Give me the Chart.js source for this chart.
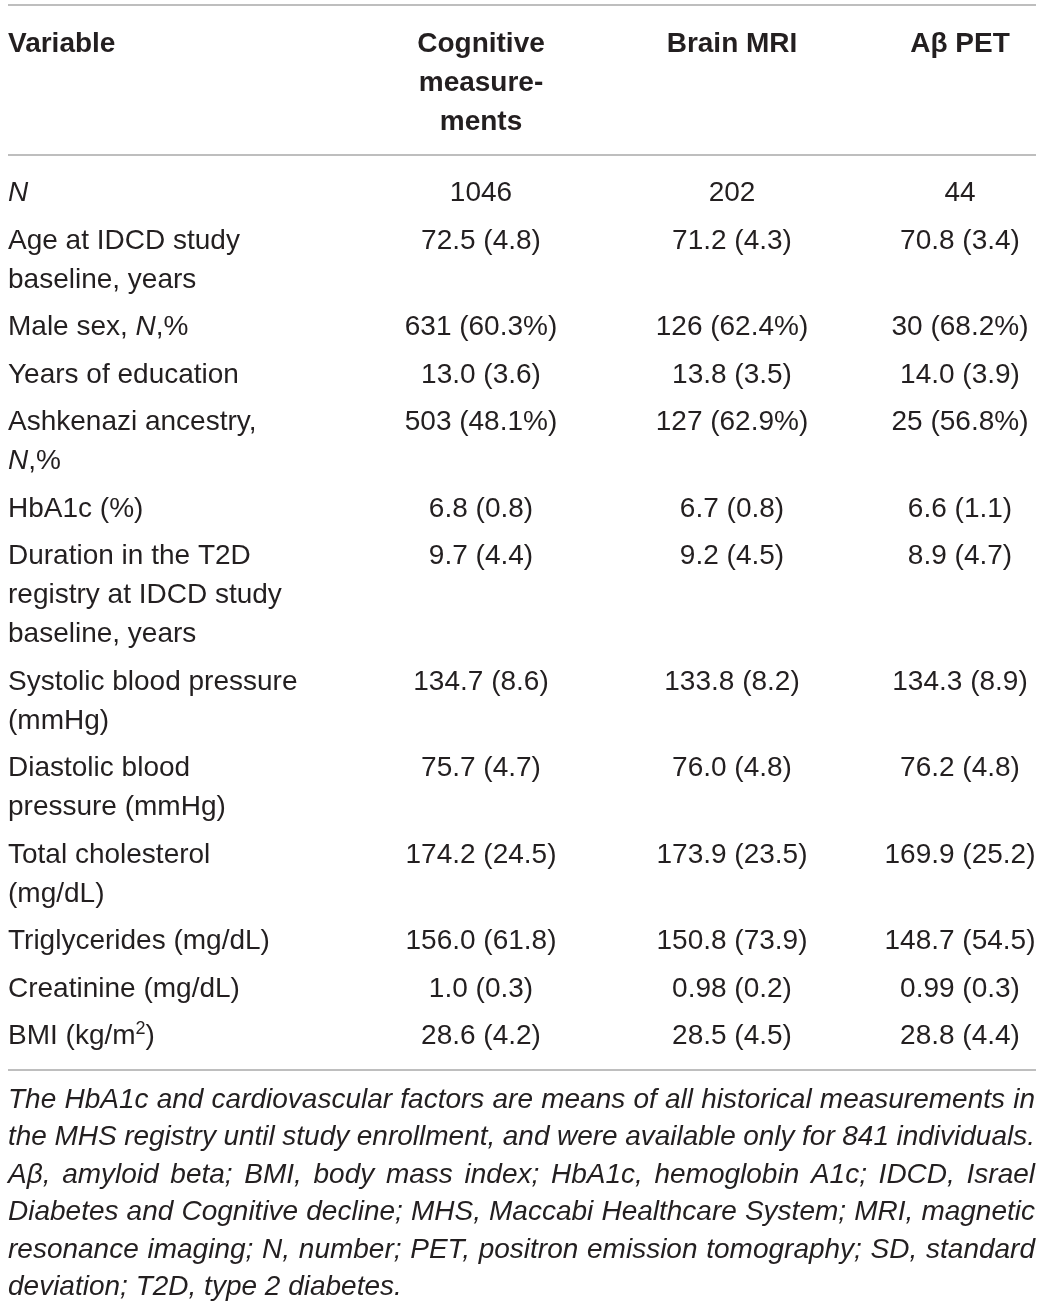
<!DOCTYPE html>
<html>
<head>
<meta charset="utf-8">
<script src="https://cdn.jsdelivr.net/npm/chart.js@4/dist/chart.umd.min.js"></script>
<style>
  html, body { margin: 0; padding: 0; background: #ffffff; }
  #wrap { width: 1043px; height: 1306px; }
</style>
</head>
<body>
<div id="wrap"><canvas id="c" width="1043" height="1306"></canvas></div>
<script>
// ---------------- DATA ----------------
const headers = [["Variable"], ["Cognitive", "measure-", "ments"], ["Brain MRI"], ["A\u03b2 PET"]];

const variables = [
  ["*N*"],
  ["Age at IDCD study", "baseline, years"],
  ["Male sex, *N*,%"],
  ["Years of education"],
  ["Ashkenazi ancestry,", "*N*,%"],
  ["HbA1c (%)"],
  ["Duration in the T2D", "registry at IDCD study", "baseline, years"],
  ["Systolic blood pressure", "(mmHg)"],
  ["Diastolic blood", "pressure (mmHg)"],
  ["Total cholesterol", "(mg/dL)"],
  ["Triglycerides (mg/dL)"],
  ["Creatinine (mg/dL)"],
  ["BMI (kg/m^2^)"]
];

const cognitive = ["1046", "72.5 (4.8)", "631 (60.3%)", "13.0 (3.6)", "503 (48.1%)", "6.8 (0.8)", "9.7 (4.4)",
  "134.7 (8.6)", "75.7 (4.7)", "174.2 (24.5)", "156.0 (61.8)", "1.0 (0.3)", "28.6 (4.2)"];
const brainMRI = ["202", "71.2 (4.3)", "126 (62.4%)", "13.8 (3.5)", "127 (62.9%)", "6.7 (0.8)", "9.2 (4.5)",
  "133.8 (8.2)", "76.0 (4.8)", "173.9 (23.5)", "150.8 (73.9)", "0.98 (0.2)", "28.5 (4.5)"];
const abPET = ["44", "70.8 (3.4)", "30 (68.2%)", "14.0 (3.9)", "25 (56.8%)", "6.6 (1.1)", "8.9 (4.7)",
  "134.3 (8.9)", "76.2 (4.8)", "169.9 (25.2)", "148.7 (54.5)", "0.99 (0.3)", "28.8 (4.4)"];

const footnote = [
  "The HbA1c and cardiovascular factors are means of all historical measurements in",
  "the MHS registry until study enrollment, and were available only for 841 individuals.",
  "A\u03b2, amyloid beta; BMI, body mass index; HbA1c, hemoglobin A1c; IDCD, Israel",
  "Diabetes and Cognitive decline; MHS, Maccabi Healthcare System; MRI, magnetic",
  "resonance imaging; N, number; PET, positron emission tomography; SD, standard",
  "deviation; T2D, type 2 diabetes."
];

// ---------------- LAYOUT / STYLE ----------------
const FAMILY = '"Liberation Sans", Arial, sans-serif';
const SIZE = 28;
const TEXT = '#231f20';
const RULE = '#a8a8a8';
const LEFT = 8, RIGHT = 1036;
const colX = [LEFT, 481, 732, 960];           // anchor of each column
const colAlign = ['left', 'center', 'center', 'center'];
const headBase = 52, lineStep = 39;
const bodyBase = 201, rowStep = 47.5;
const rules = [5, 155, 1070];
const noteBase = 1108, noteStep = 37.4, noteRight = 1035;

function segs(str) {
  return str.split(/(\*[^*]+\*|\^[^^]+\^)/).filter(s => s).map(s => {
    if (s[0] === '*') return { t: s.slice(1, -1), it: true };
    if (s[0] === '^') return { t: s.slice(1, -1), sup: true };
    return { t: s };
  });
}
function fontOf(seg, base) {
  const sz = seg.sup ? Math.round(base.size * 0.64) : base.size;
  return `${(seg.it || base.italic) ? 'italic ' : ''}${base.bold ? 'bold ' : ''}${sz}px ${FAMILY}`;
}
function drawRich(ctx, str, x, y, align, base) {
  const parts = segs(str);
  let w = 0;
  parts.forEach(p => { ctx.font = fontOf(p, base); p.w = ctx.measureText(p.t).width; w += p.w; });
  let cx = align === 'center' ? x - w / 2 : (align === 'right' ? x - w : x);
  parts.forEach(p => {
    ctx.font = fontOf(p, base);
    ctx.fillText(p.t, cx, p.sup ? y - base.size * 0.36 : y);
    cx += p.w;
  });
}

const tablePlugin = {
  id: 'tablePlugin',
  afterDraw(chart) {
    const ctx = chart.ctx;
    const xs = chart.scales.x, ys = chart.scales.y;
    const X = v => xs.getPixelForValue(v);
    const Y = v => ys.getPixelForValue(v);
    ctx.save();
    ctx.fillStyle = '#ffffff';
    ctx.fillRect(0, 0, chart.width, chart.height);

    // rules
    ctx.strokeStyle = RULE;
    ctx.lineWidth = 1.6;
    rules.forEach(r => {
      ctx.beginPath();
      ctx.moveTo(X(LEFT), Y(r));
      ctx.lineTo(X(RIGHT), Y(r));
      ctx.stroke();
    });

    ctx.fillStyle = TEXT;
    ctx.textBaseline = 'alphabetic';
    ctx.textAlign = 'left';

    // header
    headers.forEach((lines, c) => {
      lines.forEach((ln, i) => {
        drawRich(ctx, ln, X(colX[c]), Y(headBase + i * lineStep), colAlign[c], { size: SIZE, bold: true });
      });
    });

    // body
    const cols = [null, cognitive, brainMRI, abPET];
    let base = bodyBase;
    variables.forEach((lines, r) => {
      lines.forEach((ln, i) => {
        drawRich(ctx, ln, X(colX[0]), Y(base + i * lineStep), 'left', { size: SIZE });
      });
      for (let c = 1; c < 4; c++) {
        drawRich(ctx, cols[c][r], X(colX[c]), Y(base), 'center', { size: SIZE });
      }
      base += (lines.length - 1) * lineStep + rowStep;
    });

    // footnote (justified)
    footnote.forEach((ln, i) => {
      const y = Y(noteBase + i * noteStep);
      ctx.font = `italic ${SIZE}px ${FAMILY}`;
      const words = ln.split(' ');
      if (i === footnote.length - 1 || words.length < 2) {
        ctx.fillText(ln, X(LEFT), y);
        return;
      }
      const widths = words.map(w => ctx.measureText(w).width);
      const total = widths.reduce((a, b) => a + b, 0);
      const gap = (X(noteRight) - X(LEFT) - total) / (words.length - 1);
      let cx = X(LEFT);
      words.forEach((w, k) => { ctx.fillText(w, cx, y); cx += widths[k] + gap; });
    });
    ctx.restore();
  }
};

new Chart(document.getElementById('c'), {
  type: 'scatter',
  data: { datasets: [{ data: [], pointRadius: 0 }] },
  options: {
    responsive: false,
    animation: false,
    devicePixelRatio: 1,
    layout: { padding: 0 },
    plugins: { legend: { display: false }, tooltip: { enabled: false }, title: { display: false } },
    scales: {
      x: { type: 'linear', min: 0, max: 1043, display: false },
      y: { type: 'linear', min: 0, max: 1306, reverse: true, display: false }
    }
  },
  plugins: [tablePlugin]
});
</script>
</body>
</html>
